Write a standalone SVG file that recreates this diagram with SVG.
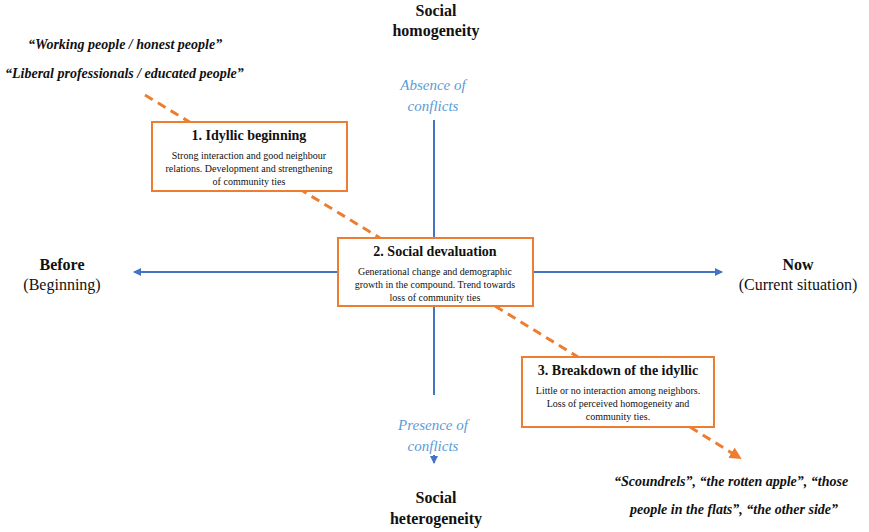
<svg xmlns="http://www.w3.org/2000/svg" width="869" height="532" viewBox="0 0 869 532">
<style>
text{font-family:"Liberation Serif",serif;fill:#111}
.t{font-weight:bold;font-size:14px}
.b{font-size:10px}
.q{font-weight:bold;font-style:italic;font-size:14px}
.c{font-style:italic;font-size:15px;fill:#5b9bd5}
.ax{font-size:16px}
.box{fill:#fff;stroke:#ed7d31;stroke-width:2}
.axis{stroke:#4472c4;stroke-width:2;fill:none}
.dash{stroke:#ed7d31;stroke-width:3;stroke-dasharray:9,6;fill:none}
</style>
<defs>
<marker id="ba" markerWidth="8" markerHeight="8" refX="7" refY="4" orient="auto" markerUnits="userSpaceOnUse"><path d="M0,0L8,4L0,8z" fill="#4472c4"/></marker>
<marker id="oa" markerWidth="12" markerHeight="12" refX="10" refY="6" orient="auto" markerUnits="userSpaceOnUse"><path d="M0,0L12,6L0,12z" fill="#ed7d31"/></marker>
</defs>
<g id="connectors">
<line class="axis" x1="434" y1="120" x2="434" y2="238"/>
<line class="axis" x1="434" y1="306" x2="434" y2="395"/>
<line class="axis" x1="434" y1="455" x2="434" y2="463" marker-end="url(#ba)"/>
<line class="axis" x1="338" y1="272" x2="134" y2="272" marker-end="url(#ba)"/>
<line class="axis" x1="533" y1="272" x2="722" y2="272" marker-end="url(#ba)"/>
<line class="dash" x1="145" y1="95" x2="380" y2="238"/>
<line class="dash" x1="495" y1="306" x2="578" y2="357"/>
<line class="dash" x1="690" y1="427" x2="740" y2="458" marker-end="url(#oa)"/>
</g>
<g id="box1"><rect class="box" x="152" y="122" width="195" height="69"/>
<text class="t" x="249" y="140" text-anchor="middle">1. Idyllic beginning</text>
<text class="b" text-anchor="middle"><tspan x="249" y="159">Strong interaction and good neighbour</tspan><tspan x="249" y="172">relations. Development and strengthening</tspan><tspan x="249" y="185">of community ties</tspan></text></g>
<g id="box2"><rect class="box" x="338" y="238" width="195" height="68"/>
<text class="t" x="435" y="256" text-anchor="middle">2. Social devaluation</text>
<text class="b" text-anchor="middle"><tspan x="435" y="275">Generational change and demographic</tspan><tspan x="435" y="288">growth in the compound. Trend towards</tspan><tspan x="435" y="301">loss of community ties</tspan></text></g>
<g id="box3"><rect class="box" x="522" y="357" width="192" height="70"/>
<text class="t" x="618" y="375" text-anchor="middle">3. Breakdown of the idyllic</text>
<text class="b" text-anchor="middle"><tspan x="618" y="394">Little or no interaction among neighbors.</tspan><tspan x="618" y="407">Loss of perceived homogeneity and</tspan><tspan x="618" y="420">community ties.</tspan></text></g>
<g id="labels">
<text class="ax" font-weight="bold" x="436" y="16" text-anchor="middle">Social</text>
<text class="ax" font-weight="bold" x="436" y="36" text-anchor="middle">homogeneity</text>
<text class="c" x="433" y="90" text-anchor="middle">Absence of</text>
<text class="c" x="433" y="111" text-anchor="middle">conflicts</text>
<text class="c" x="433" y="430" text-anchor="middle">Presence of</text>
<text class="c" x="433" y="451" text-anchor="middle">conflicts</text>
<text class="ax" font-weight="bold" x="436" y="503" text-anchor="middle">Social</text>
<text class="ax" font-weight="bold" x="436" y="524" text-anchor="middle">heterogeneity</text>
<text class="ax" font-weight="bold" x="62" y="270" text-anchor="middle">Before</text>
<text class="ax" x="62" y="290" text-anchor="middle">(Beginning)</text>
<text class="ax" font-weight="bold" x="798" y="270" text-anchor="middle">Now</text>
<text class="ax" x="798" y="290" text-anchor="middle">(Current situation)</text>
<text class="q" x="28" y="49">“Working people / honest people”</text>
<text class="q" x="5" y="78">“Liberal professionals / educated people”</text>
<text class="q" x="614" y="486">“Scoundrels”, “the rotten apple”, “those</text>
<text class="q" x="630" y="514">people in the flats”, “the other side”</text>
</g>
</svg>
